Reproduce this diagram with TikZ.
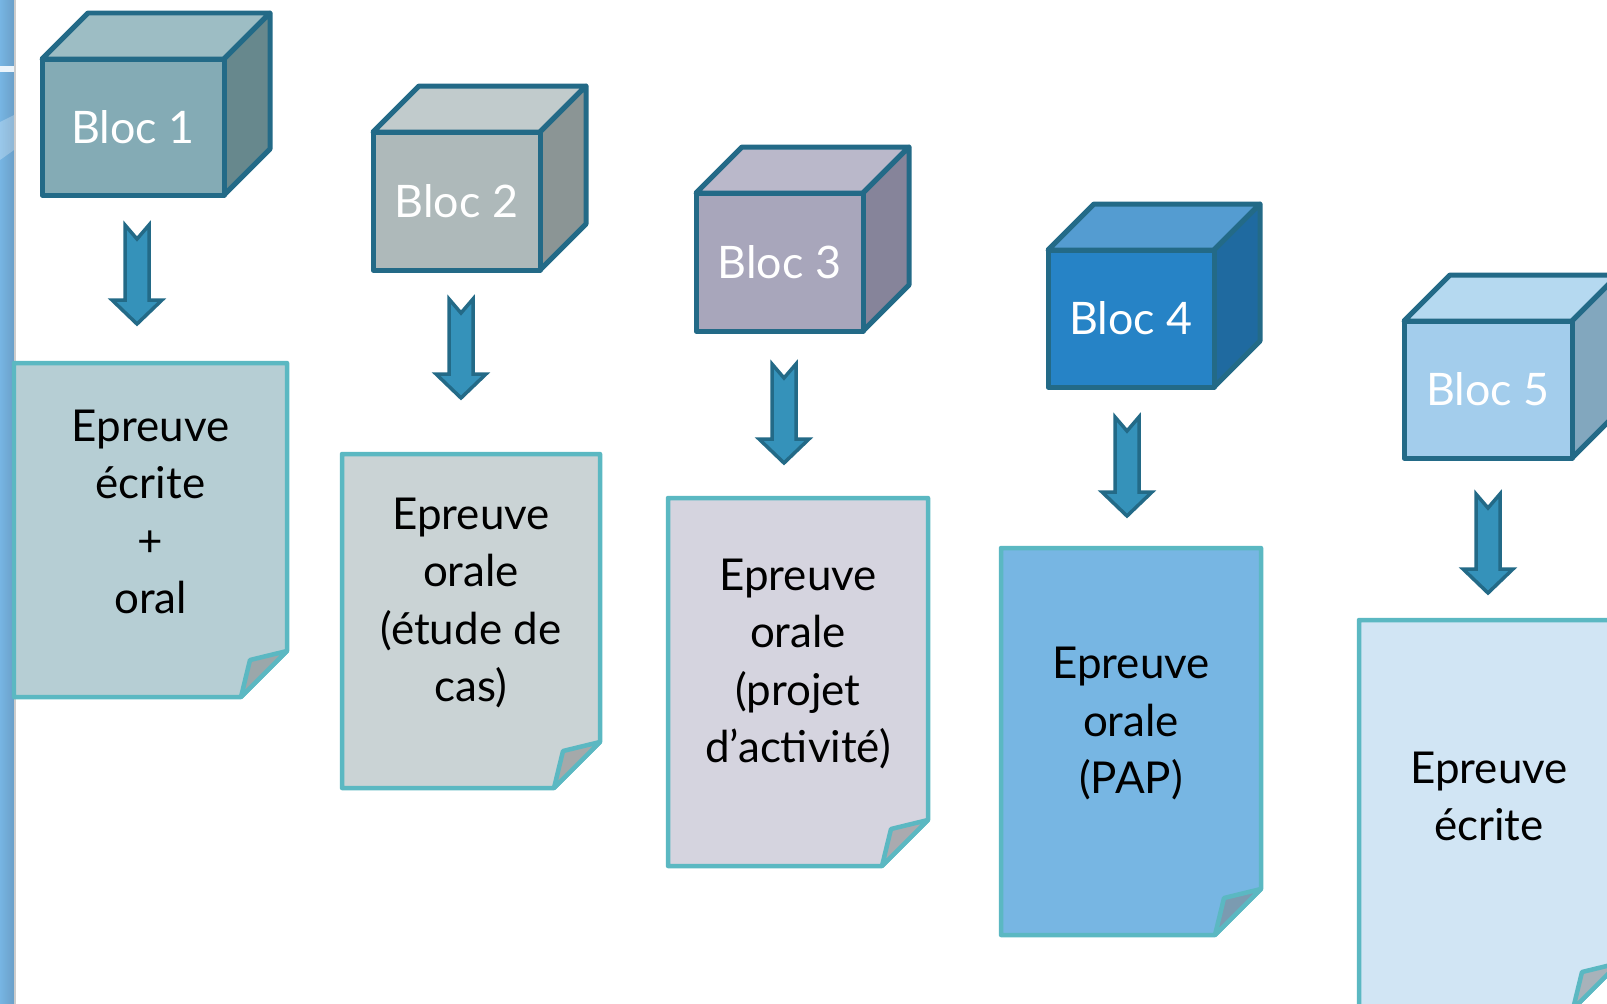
\documentclass[tikz,border=0pt]{standalone}
\usepackage{fontspec}
\setmainfont{Lato}
\usepackage{tikz}

\definecolor{edgeBlue}{HTML}{236A87}
\definecolor{pageEdge}{HTML}{5BB8C2}
\definecolor{arrowFill}{HTML}{3592BA}
\definecolor{stripeLeft}{HTML}{77B5E3}
\definecolor{stripeRight}{HTML}{6A9FC8}
%% Cube faces: front, top, side.
\definecolor{frontI}{HTML}{84ABB5}\definecolor{topI}{HTML}{9DBDC4}\definecolor{sideI}{HTML}{67888D}
\definecolor{frontII}{HTML}{AEB9BA}\definecolor{topII}{HTML}{C1CBCC}\definecolor{sideII}{HTML}{8B9595}
\definecolor{frontIII}{HTML}{A8A6BB}\definecolor{topIII}{HTML}{BAB8CA}\definecolor{sideIII}{HTML}{86849A}
\definecolor{frontIV}{HTML}{2683C6}\definecolor{topIV}{HTML}{549CD1}\definecolor{sideIV}{HTML}{1F6AA0}
\definecolor{frontV}{HTML}{A3CDEC}\definecolor{topV}{HTML}{B5D9F0}\definecolor{sideV}{HTML}{82A7BE}
%% Page fills.
\definecolor{paperI}{HTML}{B6CED4}
\definecolor{paperII}{HTML}{CAD3D5}
\definecolor{paperIII}{HTML}{D5D4DF}
\definecolor{paperIV}{HTML}{77B6E3}
\definecolor{paperV}{HTML}{D1E5F4}

%% #1 name, #2 x, #3 y, #4 width, #5 height, #6 front, #7 top, #8 side, #9 label
\newcommand{\blocCube}[9]{%
  \draw[cubeStyle,fill=#7] (#2,#3) -- ++(46,-46) -- ++(#4,0) -- ++(-46,46) -- cycle;
  \draw[cubeStyle,fill=#8] (#2+#4,#3) -- ++(46,-46) -- ++(0,#5) -- ++(-46,46) -- cycle;
  \draw[cubeStyle,fill=#6] (#2,#3) rectangle ++(#4,#5);
  \node[cubeLabel] (#1) at (#2+#4/2,#3+#5/2) {#9};
}
%% #1 name, #2 x of the middle, #3 y of the top
\newcommand{\blocArrow}[3]{%
  \coordinate (#1) at (#2,#3);
  \draw[arrowStyle] (#1) ++(-12,0) -- ++(12,14) -- ++(12,-14) -- ++(0,75)
    -- ++(13,0) -- ++(-25,24) -- ++(-25,-24) -- ++(13,0) -- cycle;
}
%% #1 name, #2 x, #3 y, #4 width, #5 height, #6 fill, #7 text
\newcommand{\epreuvePage}[7]{%
  \draw[pageStyle,fill=#6] (#2,#3) -- ++(#4,0) -- ++(0,#5-46) -- ++(-46,46)
    -- ++(-#4+46,0) -- cycle;
  \draw[pageStyle,fill=#6!50!gray] (#2+#4,#3+#5-46) -- ++(-37,9) -- ++(-9,37) -- cycle;
  \node[pageText] (#1) at (#2+#4/2,#3+#5/2-18) {#7};
}

\begin{document}
\begin{tikzpicture}[%%
  x=0.02cm,y=-0.02cm,%%
  cubeStyle/.style={draw=edgeBlue,line width=0.1cm,line join=round},%%
  cubeLabel/.style={text=white,font=\fontsize{25.5}{30}\selectfont},%%
  arrowStyle/.style={draw=edgeBlue,fill=arrowFill,line width=0.07cm},%%
  pageStyle/.style={draw=pageEdge,line width=0.09cm,line join=round},%%
  pageText/.style={align=center,font=\fontsize{25}{32.7}\selectfont}%%
]
%%
\useasboundingbox (0,0) rectangle (1607,1004);
%%
%% Slide edge on the left.
\shade[left color=stripeLeft,right color=stripeRight] (0,0) rectangle (14,1004);
\fill[white!85!stripeLeft] (0,66) rectangle (14,72);
\fill[white,opacity=0.25] (0,122) -- (14,115) -- (14,150) -- (0,160) -- cycle;
\fill[black!20] (14,0) rectangle (15.5,1004);
%%
%% The five blocs.
\blocCube{bloc1}{42}{59}{182}{136}{frontI}{topI}{sideI}{Bloc 1}
\blocCube{bloc2}{373}{132}{167}{138}{frontII}{topII}{sideII}{Bloc 2}
\blocCube{bloc3}{696}{193}{167}{138}{frontIII}{topIII}{sideIII}{Bloc 3}
\blocCube{bloc4}{1048}{250}{166}{137}{frontIV}{topIV}{sideIV}{Bloc 4}
\blocCube{bloc5}{1404}{321}{168}{137}{frontV}{topV}{sideV}{Bloc 5}
%%
%% Arrows down to the tests.
\blocArrow{arrow1}{137}{225}
\blocArrow{arrow2}{461}{299}
\blocArrow{arrow3}{784}{364}
\blocArrow{arrow4}{1127}{417}
\blocArrow{arrow5}{1488}{494}
%%
%% The tests.
\epreuvePage{epreuve1}{14}{363}{273}{334}{paperI}{Epreuve\\écrite\\+\\oral}
\epreuvePage{epreuve2}{342}{454}{258}{334}{paperII}{Epreuve\\orale\\(étude de\\cas)}
\epreuvePage{epreuve3}{668}{498}{260}{368}{paperIII}{Epreuve\\orale\\(projet\\d’activité)}
\epreuvePage{epreuve4}{1001}{548}{260}{387}{paperIV}{Epreuve\\orale\\(PAP)}
\epreuvePage{epreuve5}{1359}{620}{260}{389}{paperV}{Epreuve\\écrite}
\end{tikzpicture}
\end{document}
